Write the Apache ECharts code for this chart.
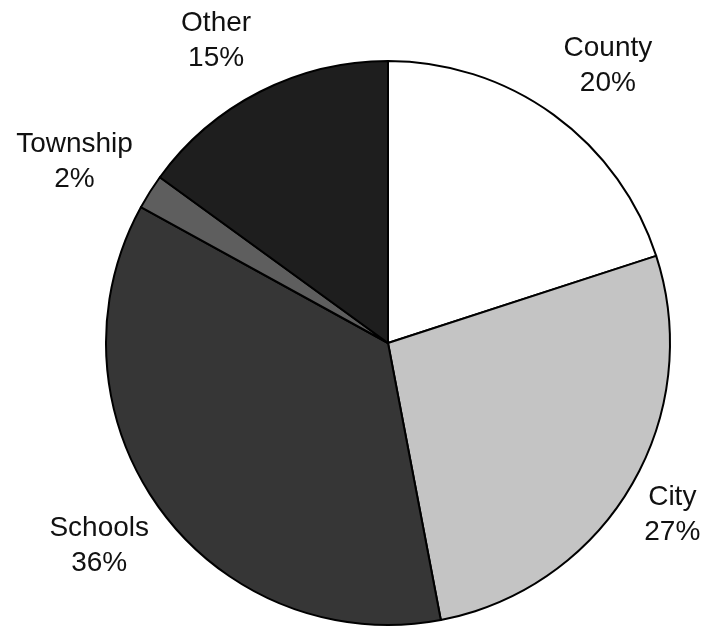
<!DOCTYPE html>
<html>
<head>
<meta charset="utf-8">
<script src="https://cdn.jsdelivr.net/npm/echarts@6/dist/echarts.min.js"></script>
<style>
  html, body { margin: 0; padding: 0; background: #fff; }
  #chart { width: 707px; height: 627px; }
</style>
</head>
<body>
<div id="chart"></div>
<script>
const categories = ["County", "City", "Schools", "Township", "Other"];
const shares = [20, 27, 36, 2, 15];

// fills per slice
const sliceColors = ["#ffffff", "#c4c4c4", "#363636", "#5e5e5e", "#1e1e1e"];
// label placement: distance from centre and small angle nudge (deg)
const labelDist = [354, 332, 353, 362, 348];
const labelNudge = [2.4, 0.5, 0.9, -2.4, -2.6];

const cx = 388, cy = 343, radius = 282;

const total = shares.reduce((a, b) => a + b, 0);
const midAngles = [];
let acc = 0;
shares.forEach((v) => {
  midAngles.push(((acc + v / 2) / total) * 360);
  acc += v;
});

const chart = echarts.init(document.getElementById("chart"));
const option = {
  animation: false,
  series: [
    {
      type: "pie",
      center: [cx, cy],
      radius: radius,
      startAngle: 90,
      clockwise: true,
      avoidLabelOverlap: false,
      data: categories.map((name, i) => ({
        name: name,
        value: shares[i],
        itemStyle: { color: sliceColors[i] },
      })),
      itemStyle: {
        borderColor: "#000",
        borderWidth: 2,
      },
      label: {
        show: true,
        position: "outside",
        formatter: "{b}\n{d}%",
        fontFamily: "Liberation Sans, Arial, sans-serif",
        fontSize: 28,
        lineHeight: 35,
        color: "#111",
        align: "center",
      },
      labelLine: { show: false },
      labelLayout: function (params) {
        const i = params.dataIndex;
        const a = ((midAngles[i] + labelNudge[i]) * Math.PI) / 180;
        return {
          x: cx + labelDist[i] * Math.sin(a),
          y: cy - labelDist[i] * Math.cos(a),
          align: "center",
          verticalAlign: "middle",
        };
      },
      emphasis: { disabled: true },
    },
  ],
};
chart.setOption(option);
</script>
</body>
</html>
